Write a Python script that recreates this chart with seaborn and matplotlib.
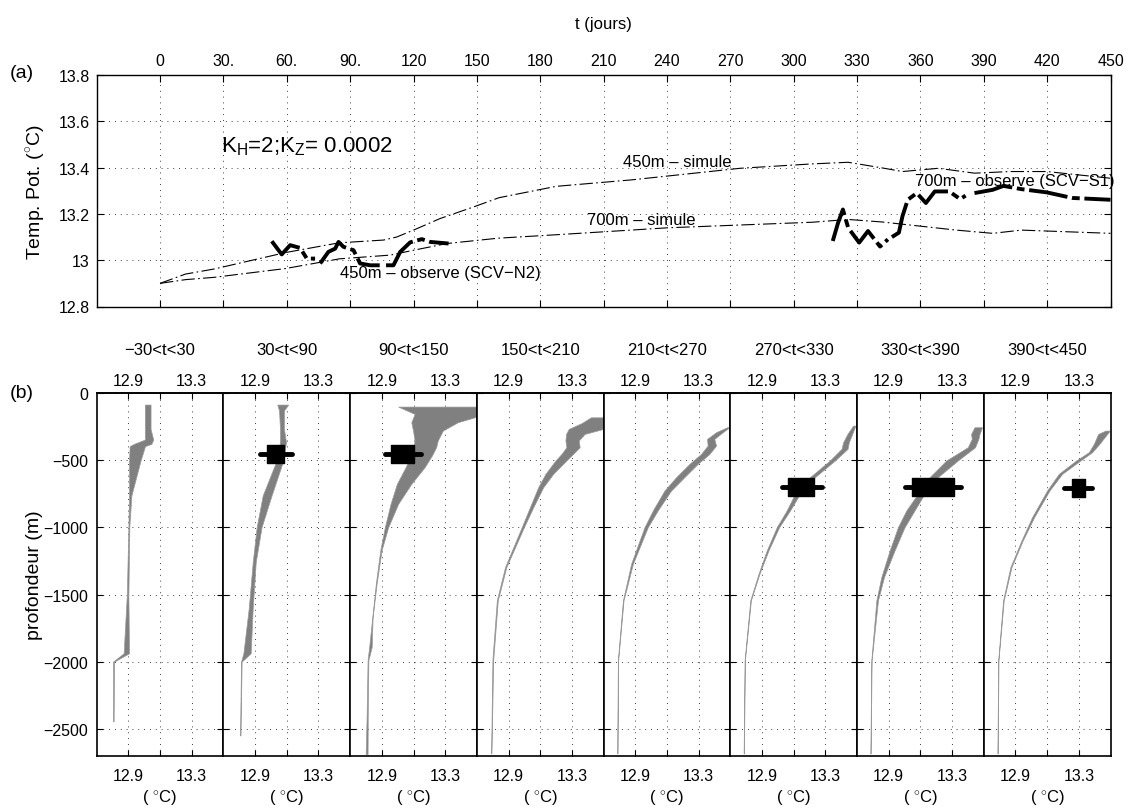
import numpy as np
import pandas as pd
import seaborn as sns
import matplotlib.pyplot as plt

# ---------------- (a) temperature time series at 450 m and 700 m ----------------
t_sim450 = [0, 12, 25.6, 59.4, 84.7, 105.8, 112, 120, 132.6, 148.4, 160.5, 187.5,
            223.3, 274.6, 308.8, 325.8, 342.9, 351.5, 368.5, 385.6, 402.7, 419.8, 450]
T_sim450 = [12.9, 12.94, 12.962, 13.033, 13.075, 13.087, 13.10, 13.13, 13.18, 13.23, 13.27, 13.319,
            13.347, 13.397, 13.416, 13.423, 13.397, 13.383, 13.397, 13.376, 13.383, 13.383, 13.354]

t_sim700 = [0, 12, 25.6, 59.4, 85, 109, 120, 135.8, 160, 189.5, 240.4, 308.8, 325.8,
            342, 360, 377, 394.2, 407.8, 450]
T_sim700 = [12.9, 12.916, 12.926, 12.964, 13.006, 13.022, 13.043, 13.072, 13.095, 13.111, 13.14, 13.164, 13.176,
            13.165, 13.147, 13.13, 13.116, 13.13, 13.116]

# observed (thick) curves, split into segments where the record has gaps
t_obs450 = [52.9, 57.6, 61.6, 66.3, 69.5, 73.4,
            75.8, 79.7, 82.9, 84.5, 86.8, 91.6, 94.7, 99.5, 104,
            107, 110.5, 113.7, 118.4, 123.9, 127.9, 136.6]
T_obs450 = [13.082, 13.025, 13.065, 13.053, 13.007, 13.007,
            12.986, 13.036, 13.05, 13.079, 13.058, 13.043, 12.986, 12.978, 12.978,
            12.978, 12.978, 13.036, 13.077, 13.091, 13.079, 13.072]
seg_obs450 = [0] * 6 + [1] * 9 + [2] * 7

t_obs700 = [318.5, 321, 323.3, 325.8, 331, 335.2, 340.9, 344.6,
            346.5, 349.8, 351.5, 354, 358.3, 362.6, 366.8, 373.7, 378.8, 381.4,
            385.6, 394.2, 399.3, 407.8, 419.8, 431.8, 450]
T_obs700 = [13.083, 13.161, 13.219, 13.14, 13.076, 13.126, 13.059, 13.09,
            13.10, 13.119, 13.19, 13.261, 13.29, 13.247, 13.297, 13.297, 13.264, 13.279,
            13.29, 13.304, 13.321, 13.307, 13.293, 13.269, 13.261]
seg_obs700 = [0] * 8 + [1] * 10 + [2] * 7

t_ticks = list(range(0, 451, 30))
t_ticklabels = ['0', '30.', '60.', '90.'] + [str(v) for v in range(120, 451, 30)]
T_ticks = [12.8, 13.0, 13.2, 13.4, 13.6, 13.8]
T_ticklabels = ['12.8', '13', '13.2', '13.4', '13.6', '13.8']

# ---------------- (b) profiles: min / max temperature over each time window ----------------
windows = ['−30<t<30', '30<t<90', '90<t<150', '150<t<210',
           '210<t<270', '270<t<330', '330<t<390', '390<t<450']

d1 = [-84, -265, -345, -377, -394, -500, -761, -996, -1504, -1938, -2000, -2445]
l1 = [13.004, 13.004, 13.004, 12.935, 12.908, 12.904, 12.904, 12.900, 12.890, 12.870, 12.803, 12.803]
r1 = [13.040, 13.040, 13.057, 13.045, 13.005, 12.977, 12.919, 12.906, 12.900, 12.904, 12.810, 12.807]

d2 = [-84, -128, -265, -364, -500, -761, -996, -1257, -1600, -1938, -2000, -2550]
l2 = [13.040, 13.051, 13.057, 13.057, 13.036, 12.948, 12.910, 12.885, 12.860, 12.826, 12.811, 12.805]
r2 = [13.109, 13.082, 13.082, 13.095, 13.078, 13.004, 12.941, 12.904, 12.885, 12.872, 12.815, 12.808]

d3 = [-99, -154, -174, -216, -278, -352, -402, -464, -551, -675, -824, -998, -1171,
      -1420, -1668, -1891, -1990, -2412, -2690]
l3 = [13.003, 13.107, 13.10, 13.086, 13.097, 13.107, 13.10, 13.085, 13.05, 12.995, 12.955, 12.919, 12.89,
      12.862, 12.84, 12.82, 12.81, 12.804, 12.798]
r3 = [13.5, 13.5, 13.5, 13.379, 13.285, 13.253, 13.243, 13.216, 13.17, 13.086, 13.003, 12.94, 12.898,
      12.867, 12.842, 12.836, 12.815, 12.811, 12.81]

d4 = [-179, -223, -265, -303, -352, -402, -452, -501, -600, -700, -849, -998, -1295, -1543, -1990, -2685]
l4 = [13.42, 13.36, 13.28, 13.263, 13.259, 13.265, 13.234, 13.196, 13.133, 13.087, 13.035, 12.983,
      12.878, 12.826, 12.798, 12.79]
r4 = [13.5, 13.5, 13.5, 13.38, 13.343, 13.349, 13.307, 13.265, 13.182, 13.119, 13.056, 12.997,
      12.886, 12.832, 12.803, 12.792]

d5 = [-253, -290, -340, -390, -452, -526, -625, -725, -873, -998, -1270, -1543, -1990, -2685]
l5 = [13.48, 13.41, 13.353, 13.357, 13.315, 13.242, 13.158, 13.084, 13.011, 12.958, 12.874, 12.822, 12.79, 12.786]
r5 = [13.495, 13.452, 13.399, 13.41, 13.368, 13.294, 13.21, 13.126, 13.042, 12.979, 12.885, 12.826, 12.792, 12.788]

d6 = [-241, -303, -365, -414, -501, -625, -749, -873, -998, -1171, -1345, -1543, -1990, -2685]
l6 = [13.475, 13.439, 13.412, 13.402, 13.328, 13.203, 13.108, 13.056, 12.993, 12.93, 12.878, 12.826, 12.79, 12.784]
r6 = [13.49, 13.469, 13.448, 13.44, 13.36, 13.234, 13.14, 13.077, 13.008, 12.941, 12.884, 12.83, 12.792, 12.786]

d7 = [-253, -303, -340, -402, -501, -625, -749, -873, -998, -1171, -1370, -1543, -1990, -2685]
l7 = [13.441, 13.42, 13.424, 13.399, 13.263, 13.158, 13.084, 13.011, 12.958, 12.906, 12.853, 12.822, 12.79, 12.784]
r7 = [13.489, 13.473, 13.466, 13.445, 13.336, 13.21, 13.126, 13.063, 13.0, 12.937, 12.87, 12.832, 12.792, 12.786]

d8 = [-278, -303, -377, -439, -501, -600, -724, -923, -1097, -1295, -1543, -1990, -2685]
l8 = [13.468, 13.422, 13.395, 13.363, 13.283, 13.174, 13.1, 13.005, 12.938, 12.868, 12.822, 12.791, 12.786]
r8 = [13.496, 13.479, 13.43, 13.384, 13.31, 13.195, 13.115, 13.018, 12.946, 12.875, 12.826, 12.793, 12.788]

# observations (black boxes) : panel index, depth, box extent, bar extent
obs_panel = [1, 2, 5, 6, 7]
obs_depth = [-450, -452, -697, -697, -705]
obs_box_top = [-384, -385, -633, -633, -642]
obs_box_bot = [-517, -518, -762, -767, -774]
obs_box_lo = [12.973, 12.961, 13.066, 13.046, 13.254]
obs_box_hi = [13.082, 13.101, 13.23, 13.311, 13.338]
obs_bar_lo = [12.931, 12.919, 13.029, 13.0, 13.205]
obs_bar_hi = [13.130, 13.145, 13.276, 13.357, 13.384]

prof_ticks = [12.9, 13.1, 13.3]
prof_ticklabels = ['12.9', '', '13.3']
depth_ticks = [-2500, -2000, -1500, -1000, -500, 0]

# ---------------- style ----------------
sns.set_style("ticks", {"axes.edgecolor": "black", "text.color": "black",
                        "xtick.color": "black", "ytick.color": "black",
                        "axes.labelcolor": "black"})
plt.rcParams['font.family'] = ['Liberation Sans', 'DejaVu Sans']
plt.rcParams['mathtext.fontset'] = 'custom'
plt.rcParams['mathtext.rm'] = 'Liberation Sans'

W, H = 1126, 812
fig = plt.figure(figsize=(W / 100, H / 100), dpi=100)


def px_box(x0, y0, x1, y1):
    return [x0 / W, 1 - y1 / H, (x1 - x0) / W, (y1 - y0) / H]


grid_kw = dict(color='k', linestyle=(0, (1, 6)), linewidth=0.6)
gray = '#808080'

# ---------------- panel (a) ----------------
ax = fig.add_axes(px_box(96.7, 76, 1110.5, 307.5))
sns.lineplot(x=t_sim450, y=T_sim450, ax=ax, color='k', lw=0.8,
             linestyle=(0, (12, 3, 1.5, 3)), sort=False, estimator=None)
sns.lineplot(x=t_sim700, y=T_sim700, ax=ax, color='k', lw=0.8,
             linestyle=(0, (12, 3, 1.5, 3)), sort=False, estimator=None)
obs450 = pd.DataFrame({'t': t_obs450, 'T': T_obs450, 'seg': seg_obs450})
obs700 = pd.DataFrame({'t': t_obs700, 'T': T_obs700, 'seg': seg_obs700})
for df in (obs450, obs700):
    sns.lineplot(data=df, x='t', y='T', units='seg', estimator=None, sort=False,
                 color='k', lw=2.8, linestyle=(0, (10, 1.2, 2, 1.2)), ax=ax, legend=False)

ax.text(29, 13.495, r'K$_\mathregular{H}$=2;K$_\mathregular{Z}$= 0.0002', fontsize=16,
        ha='left', va='center')
ax.text(244.7, 13.426, '450m – simule', fontsize=12, ha='center', va='center')
ax.text(227.6, 13.176, '700m – simule', fontsize=12, ha='center', va='center')
ax.text(132.6, 12.949, '450m – observe (SCV−N2)', fontsize=12, ha='center', va='center')
ax.text(404.8, 13.344, '700m – observe (SCV−S1)', fontsize=12, ha='center', va='center',
        clip_on=False)

ax.set_xlim(-30, 450)
ax.set_ylim(12.8, 13.8)
ax.set_xticks(t_ticks)
ax.set_xticklabels(t_ticklabels)
ax.set_yticks(T_ticks)
ax.set_yticklabels(T_ticklabels)
ax.tick_params(axis='x', direction='in', top=True, bottom=True, labeltop=True,
               labelbottom=False, length=5, width=0.8, labelsize=11.5, pad=5)
ax.tick_params(axis='y', direction='in', left=True, right=True, length=5,
               width=0.8, labelsize=11.5, pad=5)
ax.grid(True, **grid_kw)
ax.set_xlabel('')
ax.set_ylabel('Temp. Pot. ($^{\\circ}$C)', fontsize=14)
ax.yaxis.set_label_coords(-0.049, 0.5)
for s in ax.spines.values():
    s.set_linewidth(1.0)
    s.set_visible(True)

fig.text(603 / W, 1 - 24 / H, 't (jours)', fontsize=12, ha='center', va='center')
fig.text(22 / W, 1 - 74 / H, '(a)', fontsize=14, ha='center', va='center')
fig.text(22 / W, 1 - 394 / H, '(b)', fontsize=14, ha='center', va='center')

# ---------------- panel (b) ----------------
depths = [d1, d2, d3, d4, d5, d6, d7, d8]
tmins = [l1, l2, l3, l4, l5, l6, l7, l8]
tmaxs = [r1, r2, r3, r4, r5, r6, r7, r8]

pw = (1110.5 - 96.7) / 8
axes_b = []
for k in range(8):
    x0 = 96.7 + pw * k
    bx = fig.add_axes(px_box(x0, 394.3, x0 + pw, 756.5))
    axes_b.append(bx)
    bx.fill_betweenx(depths[k], tmins[k], tmaxs[k], color=gray, lw=0.5, edgecolor='#9a9a9a')
    bx.set_xlim(12.7, 13.5)
    bx.set_ylim(-2700, 0)
    bx.set_xticks(prof_ticks)
    bx.set_xticklabels(prof_ticklabels)
    bx.set_yticks(depth_ticks)
    bx.tick_params(axis='x', direction='in', top=True, bottom=True, labeltop=False,
                   labelbottom=True, length=4.5, width=0.8, labelsize=11.5, pad=9)
    bx.tick_params(axis='y', direction='in', left=True, right=True, length=4.5,
                   width=0.8, labelsize=11.5, pad=6, labelleft=(k == 0))
    bx.grid(True, **grid_kw)
    top = bx.secondary_xaxis('top')
    top.set_xticks(prof_ticks)
    top.set_xticklabels(prof_ticklabels)
    top.tick_params(length=0, labelsize=11.5, pad=4)
    top.spines['top'].set_linewidth(1.2)
    bx.set_xlabel('( $^{\\circ}$C)', fontsize=12, labelpad=3.5)
    bx.text(0.5, 1.1215, windows[k], transform=bx.transAxes, fontsize=12,
            ha='center', va='center')
    for s in bx.spines.values():
        s.set_linewidth(1.2)
        s.set_visible(True)

for i, k in enumerate(obs_panel):
    bx = axes_b[k]
    bx.fill_betweenx([obs_box_top[i], obs_box_bot[i]], obs_box_lo[i], obs_box_hi[i],
                     color='k', lw=1)
    bx.plot([obs_bar_lo[i], obs_bar_hi[i]], [obs_depth[i], obs_depth[i]],
            color='k', lw=3.5, solid_capstyle='round')

axes_b[0].set_ylabel('profondeur (m)', fontsize=14)
axes_b[0].yaxis.set_label_coords(-0.425, 0.5)

fig.savefig('out.png', dpi=100)
